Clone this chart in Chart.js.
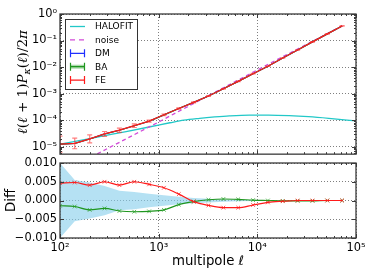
<!DOCTYPE html>
<html><head><meta charset="utf-8">
<script src="https://cdn.jsdelivr.net/npm/chart.js@4.4.0/dist/chart.umd.min.js"></script>
<style>
html,body{margin:0;padding:0;background:#fff;}
#wrap{position:relative;width:374px;height:280px;overflow:hidden;background:#fff;}
#c1{position:absolute;left:0;top:0;}
#c2{position:absolute;left:0;top:150px;}
</style></head><body>
<div id="wrap">
<canvas id="c1" width="374" height="164"></canvas>
<canvas id="c2" width="374" height="130"></canvas>
</div>
<script>
// ---------------- data ----------------
const multipoles = [100,141,200,283,400,566,800,1131,1600,2263,3200,4525,6400,9051,12800,18102,25600,36204,51200,72408];
const feSpectrum = [1.245e-5,1.32e-5,1.95e-5,3.02e-5,4.17e-5,6.17e-5,9.12e-5,1.585e-4,2.75e-4,4.68e-4,8.13e-4,1.51e-3,2.88e-3,5.62e-3,1.07e-2,2.19e-2,4.37e-2,8.91e-2,0.178,0.355];
const dmSpectrum = [1.24e-5,1.31e-5,1.94e-5,3.01e-5,4.15e-5,6.14e-5,9.08e-5,1.58e-4,2.74e-4,4.68e-4,8.14e-4,1.51e-3,2.88e-3,5.62e-3,1.07e-2,2.19e-2,4.37e-2,8.91e-2,0.178,0.355];
const baSpectrum = [1.24e-5,1.31e-5,1.94e-5,3.0e-5,4.14e-5,6.12e-5,9.05e-5,1.575e-4,2.74e-4,4.68e-4,8.14e-4,1.51e-3,2.88e-3,5.62e-3,1.07e-2,2.19e-2,4.37e-2,8.91e-2,0.178,0.355];
const feErrDex = [0.30,0.20,0.15,0.09,0.08,0.07,0.04,0.03,0.025,0.02,0.015,0.012,0.01,0.01,0.008,0.008,0.008,0.008,0.008,0.008];
const halofitEll = [100,200,400,800,1300,1800,2600,3700,5200,8300,13000,21000,33000,53000,100000];
const halofitSpectrum = [1.23e-5,2.0e-5,3.31e-5,5.5e-5,7.94e-5,1.0e-4,1.17e-4,1.32e-4,1.45e-4,1.55e-4,1.55e-4,1.48e-4,1.35e-4,1.17e-4,9.3e-5];
const noiseEll = [100,1000,10000,72408];
const noiseSpectrum = [1.0e-6,8.5e-5,7.8e-3,0.355];
const feDiff = [0.0046,0.0048,0.0041,0.0050,0.0041,0.0050,0.0043,0.0034,0.0017,-0.0003,-0.0013,-0.0019,-0.0019,-0.0012,-0.0005,-0.0002,0.0000,0.0000,0.0000,0.0000];
const baDiff = [-0.0014,-0.0016,-0.0025,-0.0021,-0.0028,-0.0030,-0.0029,-0.0025,-0.0011,-0.0003,0.0002,0.0004,0.0003,0.0001,0.0000,-0.0001,-0.0001,-0.0001,0.0000,0.0000];
const dmBandUpper = [0.0100,0.0055,0.0048,0.0039,0.0026,0.0023,0.0018,0.0014,0.0010,0.0007,0.0005,0.0003,0.0002,0.00015,0.0001,0.0001,0.00008,0.00006,0.00005,0.00004];
const dmBandLower = [-0.0100,-0.0055,-0.0048,-0.0039,-0.0026,-0.0023,-0.0018,-0.0014,-0.0010,-0.0007,-0.0005,-0.0003,-0.0002,-0.00015,-0.0001,-0.0001,-0.00008,-0.00006,-0.00005,-0.00004];
const spectrumTicks = [1e-5,1e-4,1e-3,1e-2,1e-1,1];
const diffTicks = [-0.01,-0.005,0,0.005,0.01];
const ellTicks = [100,1000,10000,100000];
const seriesLabels = ['HALOFIT','noise','DM','BA','FE'];

// ---------------- helpers ----------------
const SUP = {'0':'⁰','1':'¹','2':'²','3':'³','4':'⁴','5':'⁵','6':'⁶','7':'⁷','8':'⁸','9':'⁹','-':'⁻'};
function powLabel(v){ const e = Math.round(Math.log10(v)); return '10' + String(e).split('').map(c=>SUP[c]).join(''); }
function pts(xs, ys){ return xs.map((x,i)=>({x:x, y:ys[i]})); }
const SANS = '"DejaVu Sans", sans-serif';
const TICKFONT = {family: SANS, size: 11.4};
const FRAME = '#3a3a3a';
const C_HALO = '#22c8c8', C_NOISE = '#d24ad8', C_RED = '#ff1a1a', C_GREEN = '#1f961f', C_BLUE = '#2030ff';

function logMinors(lo, hi){ const out=[]; for(let n=-7;n<=6;n++){ for(let k=2;k<=9;k++){ const v=k*Math.pow(10,n); if(v>lo && v<hi) out.push(v);} } return out; }

function frameTicksPlugin(yMinors){
  return { id:'frameTicks', afterDraw(chart){
    const {ctx, chartArea:a, scales} = chart; const x=scales.x, y=scales.y;
    ctx.save(); ctx.strokeStyle = FRAME; ctx.lineWidth = 1;
    const xMaj = ellTicks, xMin = logMinors(x.min, x.max);
    const yMaj = y.ticks.map(t=>t.value);
    const drawX = (vals, len)=>{ vals.forEach(v=>{ const px=Math.round(x.getPixelForValue(v))+0.5; ctx.beginPath(); ctx.moveTo(px,a.bottom); ctx.lineTo(px,a.bottom-len); ctx.moveTo(px,a.top); ctx.lineTo(px,a.top+len); ctx.stroke(); }); };
    const drawY = (vals, len)=>{ vals.forEach(v=>{ const py=Math.round(y.getPixelForValue(v))+0.5; ctx.beginPath(); ctx.moveTo(a.left,py); ctx.lineTo(a.left+len,py); ctx.moveTo(a.right,py); ctx.lineTo(a.right-len,py); ctx.stroke(); }); };
    drawX(xMaj, 4); drawX(xMin, 2); drawY(yMaj, 4); drawY(yMinors ? yMinors(y) : [], 2);
    ctx.lineWidth = 1.3;
    ctx.strokeRect(a.left, a.top, a.right-a.left, a.bottom-a.top);
    ctx.restore();
  }};
}

const errorBarPlugin = { id:'errBars', afterDatasetsDraw(chart){
  const {ctx, chartArea:a, scales:{x,y}} = chart;
  ctx.save(); ctx.beginPath(); ctx.rect(a.left, a.top, a.right-a.left, a.bottom-a.top); ctx.clip();
  ctx.strokeStyle = 'rgba(255,40,40,0.6)'; ctx.lineWidth = 1.2;
  multipoles.forEach((l,i)=>{
    const v = feSpectrum[i], f = Math.pow(10, feErrDex[i]);
    const px = x.getPixelForValue(l), p1 = y.getPixelForValue(v*f), p2 = y.getPixelForValue(v/f);
    ctx.beginPath(); ctx.moveTo(px,p1); ctx.lineTo(px,p2);
    ctx.moveTo(px-2.5,p1); ctx.lineTo(px+2.5,p1); ctx.moveTo(px-2.5,p2); ctx.lineTo(px+2.5,p2); ctx.stroke();
  });
  ctx.restore();
}};

const legendPlugin = { id:'mplLegend', afterDraw(chart){
  const ctx = chart.ctx, a = chart.chartArea;
  const bx = a.left+5, by = a.top+5, bw = 72, bh = 70;
  ctx.save();
  ctx.fillStyle = '#fff'; ctx.fillRect(bx, by, bw, bh);
  ctx.strokeStyle = '#333'; ctx.lineWidth = 1; ctx.strokeRect(bx+0.5, by+0.5, bw, bh);
  const items = chart.data.datasets.filter(d=>d.legendKind).sort((p,q)=>p.legendRank-q.legendRank);
  ctx.font = '9px ' + SANS; ctx.textBaseline = 'middle'; ctx.textAlign = 'left';
  items.forEach((d,i)=>{
    const yy = by + 7.5 + i*13.4, x0 = bx+5, x1 = bx+20;
    ctx.setLineDash([]);
    if (d.legendKind === 'line' || d.legendKind === 'dash'){
      ctx.strokeStyle = d.borderColor; ctx.lineWidth = 1.3;
      if (d.legendKind === 'dash') ctx.setLineDash([5,4]);
      ctx.beginPath(); ctx.moveTo(x0, yy); ctx.lineTo(x1, yy); ctx.stroke();
      ctx.setLineDash([]);
    } else {
      if (d.legendKind === 'errband'){ ctx.strokeStyle = 'rgba(40,160,40,0.4)'; ctx.lineWidth = 4; ctx.beginPath(); ctx.moveTo(x0, yy); ctx.lineTo(x1, yy); ctx.stroke(); }
      ctx.strokeStyle = d.borderColor; ctx.lineWidth = 1.2;
      ctx.beginPath(); ctx.moveTo(x0, yy); ctx.lineTo(x1, yy);
      ctx.moveTo(x0+0.5, yy-4); ctx.lineTo(x0+0.5, yy+4); ctx.moveTo(x1-0.5, yy-4); ctx.lineTo(x1-0.5, yy+4); ctx.stroke();
    }
    ctx.fillStyle = '#000'; ctx.fillText(d.label, bx+30, yy+0.5);
  });
  ctx.restore();
}};

const yTitlePlugin = { id:'yTitleMath', afterDraw(chart){
  const ctx = chart.ctx;
  const pieces = [['ℓ','i',0],['(','r',0],['ℓ','i',0],[' + 1)','r',0],['P','i',0],['κ','i',1],['(','r',0],['ℓ','i',0],[')/2','r',0],['π','i',0]];
  const fam = '"DejaVu Serif", serif';
  const fontOf = (p, s)=> (p[1]==='i'?'italic ':'') + (p[2] ? s*0.7 : s) + 'px ' + fam;
  const measure = s => { let w=0; pieces.forEach(p=>{ ctx.font = fontOf(p,s); w += ctx.measureText(p[0]).width; }); return w; };
  let size = 13; const w13 = measure(13); size = 13*104/w13; const w = measure(size);
  ctx.save(); ctx.translate(23.5, 82); ctx.rotate(-Math.PI/2);
  ctx.fillStyle = '#000'; ctx.textBaseline = 'middle'; ctx.textAlign = 'left';
  let cx = -w/2;
  pieces.forEach(p=>{ ctx.font = fontOf(p,size); ctx.fillText(p[0], cx, p[2] ? size*0.3 : 0); cx += ctx.measureText(p[0]).width; });
  ctx.restore();
}};

const gridCommon = { color:'rgba(0,0,0,0.5)', lineWidth:1, drawTicks:false };

// ---------------- top panel ----------------
new Chart(document.getElementById('c1'), {
  type:'line',
  data:{ datasets:[
    { label:seriesLabels[0], data:pts(halofitEll, halofitSpectrum), borderColor:C_HALO, borderWidth:1.3, pointRadius:0, cubicInterpolationMode:'monotone', order:4, legendKind:'line', legendRank:0 },
    { label:seriesLabels[1], data:pts(noiseEll, noiseSpectrum), borderColor:C_NOISE, borderWidth:1.3, borderDash:[4,3], pointRadius:0, order:3, legendKind:'dash', legendRank:1 },
    { label:seriesLabels[2], data:pts(multipoles, dmSpectrum), borderColor:C_BLUE, borderWidth:1.2, pointRadius:0, order:2, legendKind:'err', legendRank:2 },
    { label:seriesLabels[3], data:pts(multipoles, baSpectrum), borderColor:C_GREEN, borderWidth:1.2, pointRadius:0, order:1, legendKind:'errband', legendRank:3 },
    { label:seriesLabels[4], data:pts(multipoles, feSpectrum), borderColor:C_RED, borderWidth:1.2, pointRadius:0, order:0, legendKind:'err', legendRank:4 }
  ]},
  options:{
    responsive:false, animation:false, devicePixelRatio:1,
    layout:{ padding:{ top:14, right:18, bottom:1, left:0 } },
    plugins:{ legend:{display:false}, tooltip:{enabled:false} },
    scales:{
      x:{ type:'logarithmic', min:100, max:100000,
          afterBuildTicks:s=>{ s.ticks = ellTicks.map(v=>({value:v})); },
          afterFit:s=>{ s.height = 0; },
          ticks:{ display:false }, grid:gridCommon, border:{ display:false, dash:[1,2] } },
      y:{ type:'logarithmic', min:5.2e-6, max:1,
          afterBuildTicks:s=>{ s.ticks = spectrumTicks.map(v=>({value:v})); },
          afterFit:s=>{ s.width = 60; },
          ticks:{ font:TICKFONT, color:'#000', padding:3, callback:v=>powLabel(v) },
          grid:gridCommon, border:{ display:false, dash:[1,2] } }
    }
  },
  plugins:[errorBarPlugin, frameTicksPlugin(y=>logMinors(y.min, y.max)), legendPlugin, yTitlePlugin]
});

// ---------------- bottom panel ----------------
new Chart(document.getElementById('c2'), {
  type:'line',
  data:{ datasets:[
    { label:'FE', data:pts(multipoles, feDiff), borderColor:C_RED, borderWidth:1.2, pointStyle:'crossRot', pointRadius:2.6, pointBorderWidth:1, pointBorderColor:'rgba(255,30,30,0.75)', cubicInterpolationMode:'monotone', order:0 },
    { label:'BA', data:pts(multipoles, baDiff), borderColor:C_GREEN, borderWidth:1.2, pointStyle:'crossRot', pointRadius:2.6, pointBorderWidth:1, pointBorderColor:'rgba(40,160,40,0.75)', cubicInterpolationMode:'monotone', order:1 },
    { label:'DM upper', data:pts(multipoles, dmBandUpper), borderWidth:0, borderColor:'rgba(0,0,0,0)', pointRadius:0, fill:false, order:6 },
    { label:'DM lower', data:pts(multipoles, dmBandLower), borderWidth:0, borderColor:'rgba(0,0,0,0)', pointRadius:0, fill:'-1', backgroundColor:'rgba(135,206,235,0.62)', order:5 }
  ]},
  options:{
    responsive:false, animation:false, devicePixelRatio:1,
    layout:{ padding:{ top:13, right:18, bottom:0, left:0 } },
    plugins:{ legend:{display:false}, tooltip:{enabled:false} },
    scales:{
      x:{ type:'logarithmic', min:100, max:100000,
          afterBuildTicks:s=>{ s.ticks = ellTicks.map(v=>({value:v})); },
          afterFit:s=>{ s.height = 42; },
          ticks:{ font:TICKFONT, color:'#000', padding:3, maxRotation:0, autoSkip:false, callback:v=>powLabel(v) },
          title:{ display:true, text:'multipole ℓ', font:{family:SANS, size:13.3}, color:'#000', padding:{top:0, bottom:10} },
          grid:gridCommon, border:{ display:false, dash:[1,2] } },
      y:{ type:'linear', min:-0.01, max:0.01,
          afterBuildTicks:s=>{ s.ticks = diffTicks.map(v=>({value:v})); },
          afterFit:s=>{ s.width = 60; },
          ticks:{ font:TICKFONT, color:'#000', padding:3, callback:v=>{ const t = Math.abs(v).toFixed(3); return (v < -1e-9 ? '−' : '') + t; } },
          title:{ display:true, text:'Diff', font:{family:SANS, size:13.3}, color:'#000', padding:{top:4, bottom:0} },
          grid:gridCommon, border:{ display:false, dash:[1,2] } }
    }
  },
  plugins:[frameTicksPlugin(null)]
});
</script>
</body></html>
